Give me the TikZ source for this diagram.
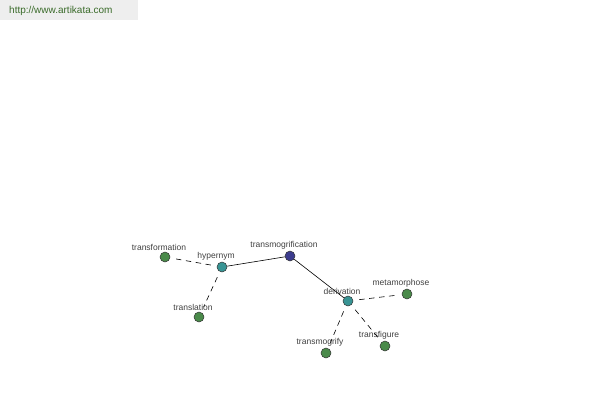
\documentclass[tikz,border=0pt]{standalone}
\usepackage{fontspec}
\setmainfont{Liberation Sans}
\usepackage{xcolor}
\definecolor{cLeaf}{HTML}{4A8A4A}
\definecolor{cMid}{HTML}{389494}
\definecolor{cRoot}{HTML}{3C3C8E}
\definecolor{cLabel}{HTML}{404040}
\definecolor{cBanner}{HTML}{EEEEEE}
\definecolor{cUrl}{HTML}{3A6B2A}
\usepackage{tikz}
\usetikzlibrary{positioning, arrows.meta}

\begin{document}
\begin{tikzpicture}[
    x=1pt, y=-1pt,
    word/.style={circle, draw=black!80, line width=0.5pt, minimum size=10pt,
                 inner sep=0pt, label={[font=\fontsize{8.5}{9}\selectfont,
                 text=cLabel, inner sep=1.2pt, xshift=-6pt]above:#1}},
    leaf/.style={word=#1, fill=cLeaf},
    mid/.style={word=#1, fill=cMid},
    root/.style={word=#1, fill=cRoot},
    strong/.style={line width=0.6pt, color=black},
    weak/.style={line width=0.6pt, color=black, dash pattern=on 5.5pt off 4.5pt,
                 shorten <=6pt, shorten >=6pt}
]
\useasboundingbox (0,0) rectangle (600,400);
\fill[cBanner] (0,0) rectangle (138,20);
\node[anchor=west, font=\fontsize{10}{11}\selectfont, text=cUrl, inner sep=0pt] (url) at (9,11) {http://www.artikata.com};

\node[root=transmogrification] (tmg) at (290,256) {};
\node[mid=hypernym] (hyp) at (222,267) {};
\node[mid=derivation] (der) at (348,301) {};
\node[leaf=transformation] (tfm) at (165,257) {};
\node[leaf=translation] (tsl) at (199,317) {};
\node[leaf=metamorphose] (met) at (407,294) {};
\node[leaf=transmogrify] (tmy) at (326,353) {};
\node[leaf=transfigure] (tfg) at (385,346) {};

\draw[strong] (hyp) -- (tmg);
\draw[strong] (tmg) -- (der);
\draw[weak] (hyp) -- (tfm);
\draw[weak] (hyp) -- (tsl);
\draw[weak] (der) -- (met);
\draw[weak] (der) -- (tmy);
\draw[weak] (der) -- (tfg);
\end{tikzpicture}
\end{document}
